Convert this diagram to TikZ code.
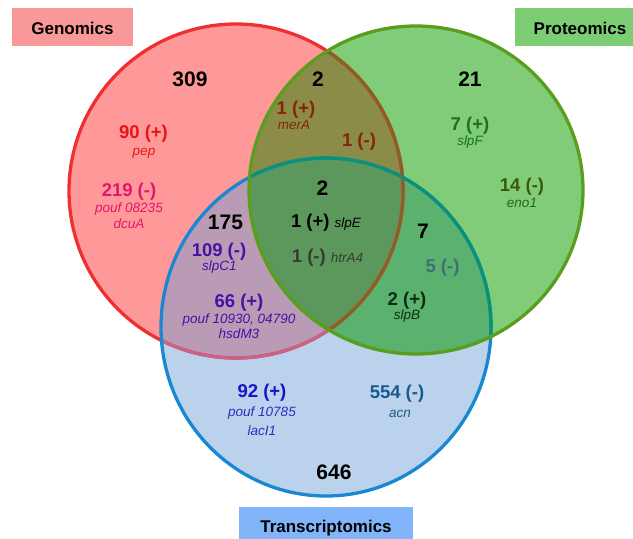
\documentclass[tikz,border=0pt]{standalone}
\usepackage{fontspec}
\setmainfont{Liberation Sans}
\definecolor{cRedFill}{RGB}{255,153,153}
\definecolor{cGreenFill}{RGB}{128,204,120}
\definecolor{cBlueFill}{RGB}{186,210,236}
\definecolor{cRG}{RGB}{138,140,72}
\definecolor{cRB}{RGB}{186,155,182}
\definecolor{cGB}{RGB}{90,178,110}
\definecolor{cRGB}{RGB}{92,152,92}
\definecolor{cRedLine}{RGB}{238,48,48}
\definecolor{cRedLineB}{RGB}{200,100,135}
\definecolor{cRedLineG}{RGB}{140,95,35}
\definecolor{cBlueLine}{RGB}{25,135,210}
\definecolor{cBlueLineG}{RGB}{10,145,120}
\definecolor{cGreenLine}{RGB}{90,158,30}
\definecolor{cBoxR}{RGB}{248,152,152}
\definecolor{cBoxG}{RGB}{125,205,117}
\definecolor{cBoxB}{RGB}{130,180,250}
\definecolor{tRed}{RGB}{235,20,20}
\definecolor{tPink}{RGB}{230,20,110}
\definecolor{tBrown}{RGB}{135,35,15}
\definecolor{tIndigo}{RGB}{68,18,165}
\definecolor{tGray}{RGB}{55,60,50}
\definecolor{tTeal}{RGB}{65,110,120}
\definecolor{tDark}{RGB}{10,45,20}
\definecolor{tGreen}{RGB}{25,115,25}
\definecolor{tOlive}{RGB}{60,90,5}
\definecolor{tEno}{RGB}{40,100,30}
\definecolor{tBlue}{RGB}{20,20,200}
\definecolor{tBlueG}{RGB}{45,45,190}
\definecolor{tSea}{RGB}{25,90,140}
\newcommand{\genefont}{\fontsize{13.5}{16}\selectfont\mdseries\itshape}
\newcommand{\Rset}{(236,191) ellipse [x radius=167pt, y radius=167pt]}
\newcommand{\Gset}{(416,190) ellipse [x radius=167pt, y radius=164pt]}
\newcommand{\Bset}{(326,327) ellipse [x radius=165pt, y radius=169pt]}
\begin{document}
\begin{tikzpicture}[x=1pt,y=-1pt,
  big/.style={font=\fontsize{21}{24}\selectfont\bfseries, anchor=base, inner sep=0pt},
  num/.style={font=\fontsize{18.5}{21}\selectfont\bfseries, anchor=base, inner sep=0pt},
  gene/.style={font=\genefont, anchor=base, inner sep=0pt},
  lab/.style={font=\fontsize{17}{20}\selectfont\bfseries, anchor=base, inner sep=0pt},
  ring/.style={line width=3.3pt}]
\useasboundingbox (0,0) rectangle (633,539);
% region fills
\fill[cRedFill] \Rset;
\fill[cGreenFill] \Gset;
\fill[cBlueFill] \Bset;
\begin{scope}
  \clip \Rset;
  \fill[cRG] \Gset;
  \fill[cRB] \Bset;
\end{scope}
\begin{scope}
  \clip \Gset;
  \fill[cGB] \Bset;
\end{scope}
\begin{scope}
  \clip \Rset;
  \clip \Gset;
  \fill[cRGB] \Bset;
\end{scope}
% outlines
\draw[ring, cRedLine] \Rset;
\begin{scope}
  \clip \Bset;
  \draw[ring, cRedLineB] \Rset;
\end{scope}
\begin{scope}
  \clip \Gset;
  \draw[ring, cRedLineG] \Rset;
\end{scope}
\draw[ring, cBlueLine] \Bset;
\begin{scope}
  \clip \Gset;
  \draw[ring, cBlueLineG] \Bset;
\end{scope}
\draw[ring, cGreenLine] \Gset;
% set labels
\fill[cBoxR] (12,8) rectangle (133,46);
\fill[cBoxG] (515,8) rectangle (633,46);
\fill[cBoxB] (239,507) rectangle (413,539);
\node[lab] (lgen) at (72.5,34) {Genomics};
\node[lab] (lpro) at (580,34) {Proteomics};
\node[lab] (ltra) at (326,532) {Transcriptomics};
% genomics only
\node[big] (n309) at (190,86) {309};
\node[num, text=tRed] (n90) at (143.5,138) {90 (+)};
\node[gene, text=tRed] (gpep) at (144,155) {pep};
\node[num, text=tPink] (n219) at (129,196) {219 (-)};
\node[gene, text=tPink] (gpouf1) at (129,212) {pouf 08235};
\node[gene, text=tPink] (gdcu) at (129,228) {dcuA};
% genomics & proteomics
\node[big] (n2a) at (318,86) {2};
\node[num, text=tBrown] (n1pa) at (296,114) {1 (+)};
\node[gene, text=tBrown] (gmer) at (294,129) {merA};
\node[num, text=tBrown] (n1ma) at (359,146) {1 (-)};
% genomics & transcriptomics
\node[big] (n175) at (225.5,229) {175};
\node[num, text=tIndigo] (n109) at (219,256) {109 (-)};
\node[gene, text=tIndigo] (gslpc) at (219.5,270) {slpC1};
\node[num, text=tIndigo] (n66) at (239,307) {66 (+)};
\node[gene, text=tIndigo] (gpouf2) at (239,323) {pouf 10930, 04790};
\node[gene, text=tIndigo] (ghsd) at (239,338) {hsdM3};
% all three
\node[big] (n2c) at (322.5,195) {2};
\node[num] (n1pc) at (326,227) {1 (+) {\genefont slpE}};
\node[num, text=tGray] (n1mc) at (327.5,262) {1 (-) {\genefont htrA4}};
% proteomics only
\node[big] (n21) at (470,86) {21};
\node[num, text=tGreen] (n7p) at (470,130) {7 (+)};
\node[gene, text=tGreen] (gslpf) at (470,145) {slpF};
\node[num, text=tOlive] (n14) at (522,191) {14 (-)};
\node[gene, text=tEno] (geno) at (522,207) {eno1};
% proteomics & transcriptomics
\node[big] (n7) at (423,238) {7};
\node[num, text=tTeal] (n5) at (442.5,272) {5 (-)};
\node[num, text=tDark] (n2p) at (407,305) {2 (+)};
\node[gene, text=tDark] (gslpb) at (407,319) {slpB};
% transcriptomics only
\node[num, text=tBlue] (n92) at (262,397) {92 (+)};
\node[gene, text=tBlueG] (gpouf3) at (262,416) {pouf 10785};
\node[gene, text=tBlueG] (glac) at (262,435) {lacI1};
\node[num, text=tSea] (n554) at (397,398) {554 (-)};
\node[gene, text=tSea] (gacn) at (400,417) {acn};
\node[big] (n646) at (334,479) {646};
\end{tikzpicture}
\end{document}
